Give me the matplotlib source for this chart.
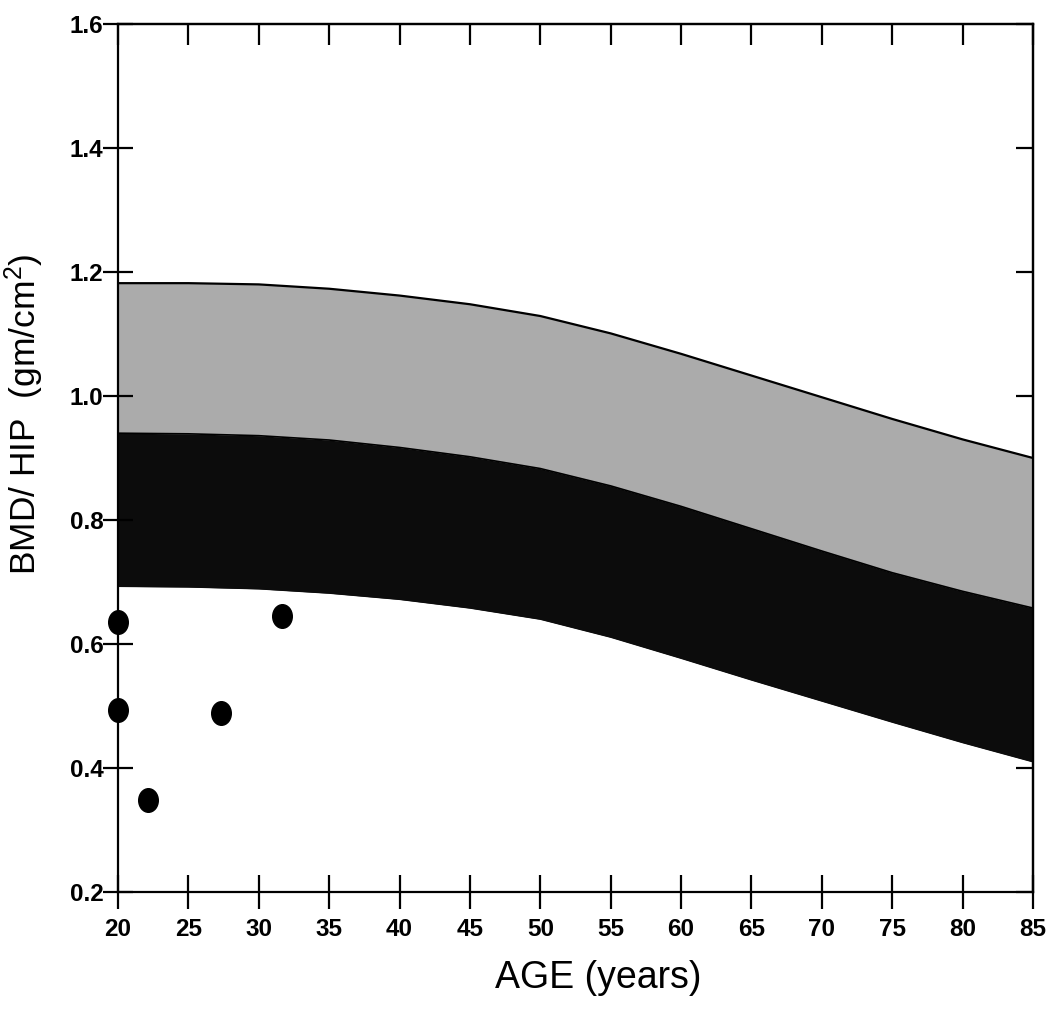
import matplotlib
matplotlib.use("Agg")
import matplotlib.pyplot as plt
from matplotlib import font_manager as fm
from matplotlib.path import Path
from matplotlib.transforms import Affine2D

# ---- data ----
ages = [20, 25, 30, 35, 40, 45, 50, 55, 60, 65, 70, 75, 80, 85]
upper = [1.182, 1.182, 1.180, 1.173, 1.162, 1.148, 1.129, 1.101, 1.068, 1.033, 0.998, 0.963, 0.930, 0.900]
middle = [0.940, 0.939, 0.936, 0.929, 0.917, 0.902, 0.883, 0.855, 0.822, 0.786, 0.750, 0.715, 0.685, 0.658]
lower = [0.693, 0.692, 0.689, 0.682, 0.672, 0.658, 0.640, 0.611, 0.577, 0.542, 0.508, 0.474, 0.441, 0.410]

pt_age = [20, 20, 22.1, 27.3, 31.65]
pt_bmd = [0.635, 0.494, 0.348, 0.489, 0.645]

x_ticks = [20, 25, 30, 35, 40, 45, 50, 55, 60, 65, 70, 75, 80, 85]
y_ticks = [0.2, 0.4, 0.6, 0.8, 1.0, 1.2, 1.4, 1.6]
y_tick_labels = ["0.2", "0.4", "0.6", "0.8", "1.0", "1.2", "1.4", "1.6"]

plain = "Liberation Sans"
tick_size = 17.5

fig = plt.figure(figsize=(10.5, 10.13), dpi=100)
ax = fig.add_axes([118 / 1050, 121 / 1013, 915 / 1050, 868 / 1013])

ax.fill_between(ages, middle, upper, color="#ababab", linewidth=0, zorder=1)
ax.fill_between(ages, lower, middle, color="#0c0c0c", linewidth=0, zorder=1)
ax.plot(ages, upper, color="black", lw=1.6, zorder=2)
ax.plot(ages, middle, color="black", lw=1.2, zorder=2)
ax.plot(ages, lower, color="#0c0c0c", lw=1.0, zorder=2)

ell = Path.unit_circle().transformed(Affine2D().scale(0.83, 1.0))
ax.plot(pt_age, pt_bmd, linestyle="none", marker=ell, ms=17, color="black",
        clip_on=False, zorder=5)

ax.set_xlim(20, 85)
ax.set_ylim(0.2, 1.6)
ax.set_xticks(x_ticks)
ax.set_xticklabels([str(t) for t in x_ticks])
ax.set_yticks(y_ticks)
ax.set_yticklabels(y_tick_labels)

for s in ax.spines.values():
    s.set_linewidth(1.6)

ax.tick_params(axis="x", direction="inout", length=25, width=1.6, pad=6,
               labelsize=tick_size)
ax.tick_params(axis="y", direction="inout", length=21, width=1.6, pad=0,
               labelsize=tick_size)
for lab in ax.get_xticklabels() + ax.get_yticklabels():
    lab.set_fontfamily(plain)
    lab.set_fontweight("bold")

top = ax.secondary_xaxis("top")
top.set_xticks(x_ticks)
top.tick_params(direction="in", length=15, width=1.6, labeltop=False)
top.spines["top"].set_linewidth(1.6)
right = ax.secondary_yaxis("right")
right.set_yticks(y_ticks)
right.tick_params(direction="in", length=12, width=1.6, labelright=False)
right.spines["right"].set_linewidth(1.6)

plt.rcParams["mathtext.fontset"] = "custom"
plt.rcParams["mathtext.rm"] = plain
plt.rcParams["mathtext.default"] = "regular"

fig.text(598 / 1050, 1 - 978 / 1013, "AGE (years)", ha="center", va="center",
         fontsize=27, family=plain)
fig.text(24 / 1050, 1 - 414 / 1013, r"BMD/ HIP  (gm/cm$^2$)", ha="center",
         va="center", rotation=90, fontsize=25.5, family=plain)

fig.savefig("out.png", dpi=100)
